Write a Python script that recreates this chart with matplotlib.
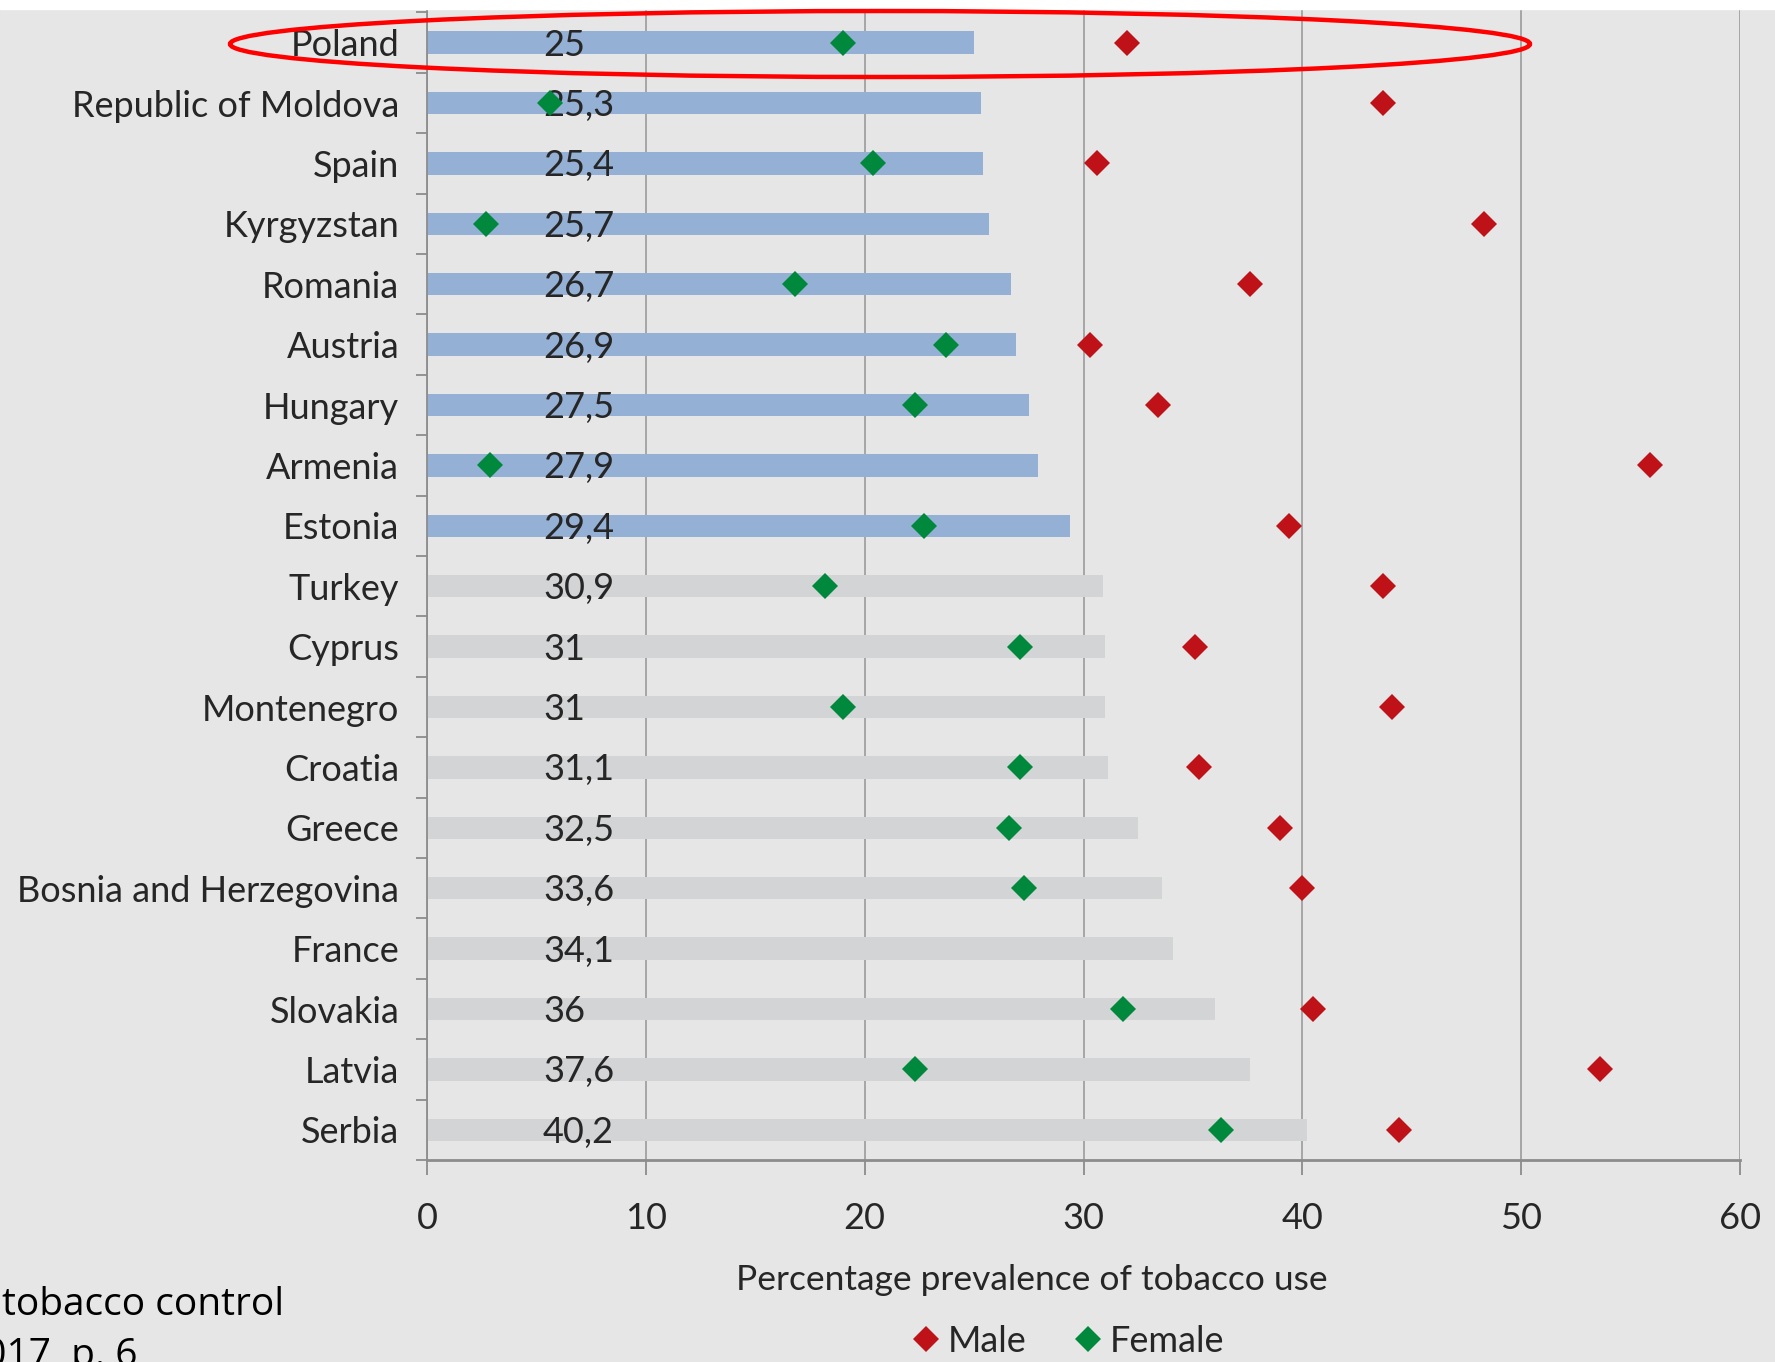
import numpy as np, matplotlib
matplotlib.use("Agg"); import matplotlib.pyplot as plt
from matplotlib.patches import Ellipse, Rectangle

countries=["Poland","Republic of Moldova","Spain","Kyrgyzstan","Romania","Austria","Hungary","Armenia","Estonia",
           "Turkey","Cyprus","Montenegro","Croatia","Greece","Bosnia and Herzegovina","France","Slovakia","Latvia","Serbia"]
total=[25,25.3,25.4,25.7,26.7,26.9,27.5,27.9,29.4,30.9,31,31,31.1,32.5,33.6,34.1,36,37.6,40.2]
male=[32.0,43.7,30.6,48.3,37.6,30.3,33.4,55.9,39.4,43.7,35.1,44.1,35.3,39.0,40.0,np.nan,40.5,53.6,44.4]
female=[19.0,5.6,20.4,2.7,16.8,23.7,22.3,2.9,22.7,18.2,27.1,19.0,27.1,26.6,27.3,np.nan,31.8,22.3,36.3]
n_blue=9  # first rows highlighted
xticks=[0,10,20,30,40,50,60]

plt.rcParams['font.family']=['Lato','DejaVu Sans']
bg="#e6e6e6"; tc="#262626"
fig=plt.figure(figsize=(17.75,13.62),dpi=100,facecolor=bg)
ax=fig.add_axes([427/1775,1-1160/1362,(1740-427)/1775,(1160-10)/1362],facecolor=bg)
y=np.arange(len(countries))
cols=["#95b0d5" if i<n_blue else "#d3d4d6" for i in y]
ax.barh(y,total,height=0.37,color=cols,zorder=2)
for i,v in enumerate(total):
    ax.text(5.3,i+0.04,f"{v:g}".replace(".",","),ha="left",va="center",fontsize=26,color=tc,zorder=3)
ax.plot(male,y,"D",color="#bf1218",ms=13,mew=0,zorder=4,label="Male")
ax.plot(female,y,"D",color="#00883c",ms=13,mew=0,zorder=4,label="Female")
ax.set_xlim(0,60); ax.set_ylim(len(countries)-0.5,-0.54)
ax.set_xticks(xticks); ax.set_xticklabels([str(t) for t in xticks],fontsize=26,color=tc)
ax.set_yticks(y); ax.set_yticklabels(countries,fontsize=26,color=tc)
ax.set_yticks(np.arange(len(countries)+1)-0.5,minor=True)
ax.tick_params(axis="y",which="major",length=0,pad=20)
ax.tick_params(axis="y",which="minor",length=8,width=1.3,color="#8c8c8c")
ax.tick_params(axis="x",length=11,width=1.3,color="#8c8c8c",pad=19)
ax.grid(axis="x",color="#a6a6a6",lw=1.4,zorder=1)
for s in ["top","right"]: ax.spines[s].set_visible(False)
ax.spines["left"].set_color("#8c8c8c"); ax.spines["left"].set_linewidth(1.3)
ax.spines["bottom"].set_color("#8c8c8c"); ax.spines["bottom"].set_linewidth(2)
fig.text(1032/1775,1-1280/1362,"Percentage prevalence of tobacco use",ha="center",va="center",fontsize=25.5,color=tc)
h,l=ax.get_legend_handles_labels()
fig.legend(h,l,loc="center",bbox_to_anchor=(1070/1775,1-1341/1362),ncol=2,frameon=False,fontsize=26,
           handlelength=0.6,handletextpad=0.3,columnspacing=1.4,labelcolor=tc,borderpad=0.2)
# strip of white along the top and the highlight ring around Poland
fig.patches.append(Rectangle((0,1-9/1362),1,9/1362,transform=fig.transFigure,color="white",zorder=0))
fig.patches.append(Ellipse((880/1775,1-44/1362),1300/1775,66/1362,transform=fig.transFigure,
                           fill=False,ec="#ff0000",lw=3.2,zorder=10))
# source note at the lower left, running off the page
fig.text(2/1775,1-1305/1362,"tobacco control",ha="left",va="center",fontsize=28,color="black",family=["Open Sans","DejaVu Sans"])
fig.text(-38/1775,1-1356/1362,"2017, p. 6",ha="left",va="center",fontsize=28,color="black",family=["Open Sans","DejaVu Sans"])
fig.savefig("out.png",dpi=100,facecolor=bg)
